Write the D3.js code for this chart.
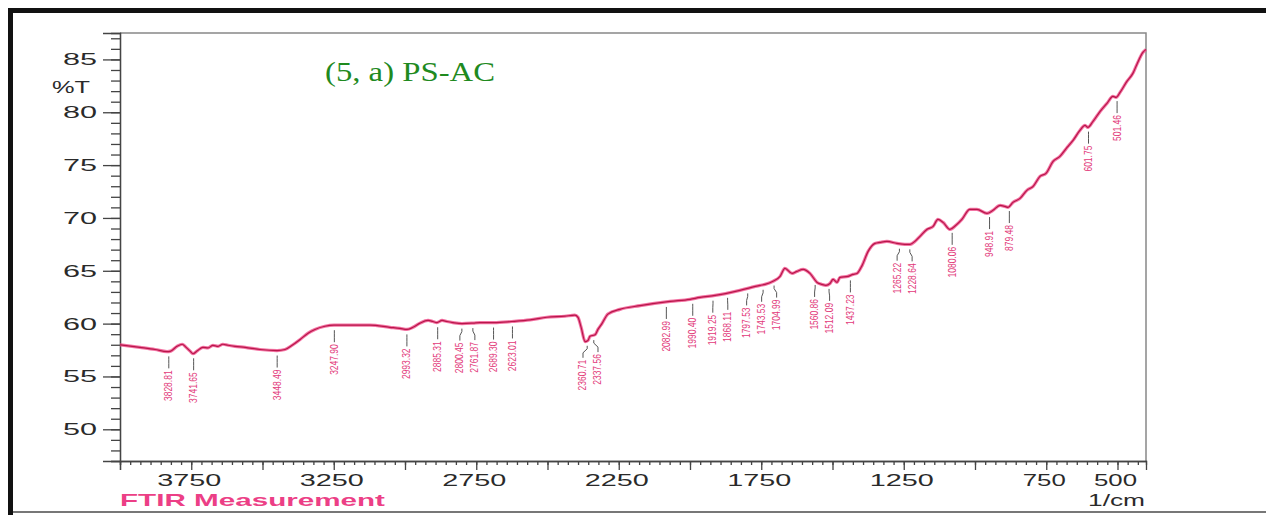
<!DOCTYPE html>
<html>
<head>
<meta charset="utf-8">
<script src="https://cdn.jsdelivr.net/npm/d3@7"></script>
<style>
  body { margin: 0; background: #fff; }
  svg { display: block; font-family: "Liberation Sans", Arial, sans-serif; }
</style>
</head>
<body>
<div id="chart"></div>
<script>
// Spectrum (1/cm, %T)
let wavenumbers = [4000, 3930, 3877, 3835, 3822, 3800, 3782, 3768, 3754, 3744, 3730, 3709, 3691, 3674, 3656,
    3639, 3621, 3596, 3561, 3509, 3449, 3421, 3396, 3368, 3340, 3316, 3281, 3249, 3193, 3123,
    3053, 3018, 2993, 2972, 2947, 2919, 2902, 2888, 2870, 2853, 2832, 2800, 2761, 2737, 2688,
    2625, 2561, 2502, 2439, 2404, 2393, 2382, 2368, 2358, 2351, 2333, 2323, 2309, 2288, 2246,
    2175, 2070, 2000, 1965, 1912, 1825, 1754, 1737, 1709, 1684, 1667, 1642, 1625, 1603, 1579,
    1554, 1537, 1523, 1509, 1498, 1484, 1474, 1446, 1428, 1414, 1396, 1375, 1351, 1333, 1309,
    1274, 1246, 1228, 1211, 1193, 1168, 1147, 1130, 1112, 1088, 1067, 1046, 1018, 993, 958,
    937, 912, 895, 884, 867, 842, 818, 796, 772, 751, 726, 702, 677, 656, 632,
    614, 604, 586, 561, 537, 516, 505, 491, 467, 446, 432, 411, 400];
let transmittance = [58.0, 57.75, 57.55, 57.35, 57.4, 57.85, 58.05, 57.75, 57.4, 57.15, 57.4, 57.75, 57.7, 57.95, 57.85,
    58.05, 57.95, 57.85, 57.75, 57.55, 57.45, 57.55, 57.95, 58.5, 59.1, 59.45, 59.75, 59.85, 59.85, 59.85,
    59.65, 59.55, 59.45, 59.65, 60.05, 60.3, 60.2, 60.1, 60.3, 60.2, 60.1, 60.0, 60.05, 60.1, 60.1,
    60.2, 60.35, 60.6, 60.7, 60.8, 60.6, 59.65, 58.3, 58.4, 58.8, 58.95, 59.45, 60.0, 60.9, 61.35,
    61.7, 62.1, 62.3, 62.48, 62.67, 63.15, 63.62, 63.71, 64.0, 64.47, 65.23, 64.75, 64.94, 65.13, 64.75,
    63.9, 63.71, 63.62, 63.8, 64.18, 63.9, 64.37, 64.47, 64.66, 64.75, 65.51, 66.84, 67.59, 67.69, 67.78,
    67.59, 67.5, 67.5, 67.78, 68.26, 68.92, 69.2, 69.86, 69.58, 68.92, 69.3, 69.86, 70.81, 70.81, 70.43,
    70.72, 71.19, 71.09, 71.0, 71.47, 71.85, 72.61, 72.99, 73.93, 74.22, 75.35, 75.82, 76.67, 77.34, 78.28,
    78.76, 78.57, 79.13, 80.08, 80.84, 81.5, 81.41, 81.88, 82.92, 83.68, 84.53, 85.66, 85.95];

// Peak labels printed under the curve
let peakLabels = ["3828.81", "3741.65", "3448.49", "3247.90", "2993.32", "2885.31", "2800.45", "2761.87",
    "2689.30", "2623.01", "2360.71", "2337.56", "2082.99", "1990.40", "1919.25", "1868.11", "1797.53",
    "1743.53", "1704.99", "1560.86", "1512.09", "1437.23", "1265.22", "1228.64", "1080.06", "948.91",
    "879.48", "601.75", "501.46"];

let xTickLabels = [3750, 3250, 2750, 2250, 1750, 1250, 750, 500];
let yTickLabels = [50, 55, 60, 65, 70, 75, 80, 85];

let W = 1266, H = 515;
let svg = d3.select("#chart").append("svg")
    .attr("width", W)
    .attr("height", H);

// Outer frame of the figure
svg.append("rect").attr("x", 8).attr("y", 8).attr("width", W - 8).attr("height", 5).attr("fill", "#111");
svg.append("rect").attr("x", 8).attr("y", 8).attr("width", 5).attr("height", H - 8).attr("fill", "#111");
svg.append("line").attr("x1", 13).attr("x2", W).attr("y1", 512).attr("y2", 512)
    .attr("stroke", "#777").attr("stroke-width", 2);

// Scales
let x = d3.scaleLinear().domain([4000, 400]).range([120, 1146]);
let y = d3.scaleLinear().domain([47, 87.5]).range([461, 33]);

// Plot box (top and right)
svg.append("path")
    .attr("d", "M" + x(4000) + "," + y(87.5) + "H" + x(400) + "V" + y(47))
    .attr("fill", "none").attr("stroke", "#888").attr("stroke-width", 1.5);

// X axis
let xMinor = d3.range(4000, 399, -250 / 7);
let xMajor = d3.range(4000, 399, -250);
let xAxisMinor = d3.axisBottom(x).tickValues(xMinor).tickSize(4).tickFormat("");
let xAxisMajor = d3.axisBottom(x).tickValues(xMajor).tickSize(9).tickFormat("");
svg.append("g").attr("transform", "translate(0," + y(47) + ")").call(xAxisMinor);
svg.append("g").attr("transform", "translate(0," + y(47) + ")").call(xAxisMajor);

svg.selectAll(".xlab")
    .data(xTickLabels)
    .enter().append("text")
    .attr("class", "xlab")
    .attr("x", function(d) { return x(d) - 2; })
    .attr("y", 486)
    .attr("text-anchor", "middle")
    .attr("textLength", function(d) { return String(d).length === 4 ? 64 : 43; })
    .attr("lengthAdjust", "spacingAndGlyphs")
    .attr("font-size", 16)
    .attr("fill", "#2a2a2a")
    .text(function(d) { return d; });

// Y axis
let yMinor = d3.range(47, 88, 1);
let yAxisMinor = d3.axisLeft(y).tickValues(yMinor).tickSize(9).tickFormat("");
let yAxisMajor = d3.axisLeft(y).tickValues(yTickLabels).tickSize(17).tickFormat("");
svg.append("g").attr("transform", "translate(" + x(4000) + ",0)").call(yAxisMinor);
svg.append("g").attr("transform", "translate(" + x(4000) + ",0)").call(yAxisMajor);
svg.selectAll(".domain, .tick line").attr("stroke", "#444").attr("stroke-width", 1.3);

svg.selectAll(".ylab")
    .data(yTickLabels)
    .enter().append("text")
    .attr("class", "ylab")
    .attr("x", 63)
    .attr("y", function(d) { return y(d) + 6; })
    .attr("textLength", 34)
    .attr("lengthAdjust", "spacingAndGlyphs")
    .attr("font-size", 16)
    .attr("fill", "#2a2a2a")
    .text(function(d) { return d; });

svg.append("text").attr("x", 52).attr("y", 93)
    .attr("textLength", 38).attr("lengthAdjust", "spacingAndGlyphs")
    .attr("font-size", 16).attr("fill", "#2a2a2a").text("%T");

svg.append("text").attr("x", 1088).attr("y", 506)
    .attr("textLength", 57).attr("lengthAdjust", "spacingAndGlyphs")
    .attr("font-size", 16).attr("fill", "#2a2a2a").text("1/cm");

svg.append("text").attr("x", 120).attr("y", 506)
    .attr("textLength", 265).attr("lengthAdjust", "spacingAndGlyphs")
    .attr("font-size", 17).attr("font-weight", "bold").attr("fill", "#ec3f86")
    .text("FTIR Measurement");

// Title
svg.append("text").attr("x", 325).attr("y", 81)
    .attr("textLength", 170).attr("lengthAdjust", "spacingAndGlyphs")
    .attr("font-family", "'Liberation Serif', 'Times New Roman', serif")
    .attr("font-size", 28).attr("fill", "#1f8a1f")
    .text("(5, a) PS-AC");

// Spectrum line
let spectrum = wavenumbers.map(function(nu, i) { return {nu: nu, t: transmittance[i]}; });
let line = d3.line()
    .x(function(d) { return x(d.nu); })
    .y(function(d) { return y(d.t); })
    .curve(d3.curveMonotoneX);

svg.append("path").datum(spectrum)
    .attr("d", line).attr("fill", "none")
    .attr("stroke", "#f0508c").attr("stroke-width", 3.2).attr("stroke-opacity", 0.8);
svg.append("path").datum(spectrum)
    .attr("d", line).attr("fill", "none")
    .attr("stroke", "#b8164a").attr("stroke-width", 1.2);

// Peak labels
function valueAt(nu) {
    for (let i = 1; i < spectrum.length; i++) {
        let a = spectrum[i - 1], b = spectrum[i];
        if (nu <= a.nu && nu >= b.nu) {
            let f = (a.nu - nu) / (a.nu - b.nu);
            return a.t + f * (b.t - a.t);
        }
    }
    return spectrum[spectrum.length - 1].t;
}

let peaks = peakLabels.map(function(s) {
    let nu = +s;
    return {label: s, px: x(nu), py: y(valueAt(nu)), lx: x(nu)};
});

// push crowded labels apart a little
for (let it = 0; it < 60; it++) {
    for (let i = 1; i < peaks.length; i++) {
        let gap = peaks[i].lx - peaks[i - 1].lx;
        if (gap < 15) {
            let d = (15 - gap) / 2;
            peaks[i - 1].lx -= d;
            peaks[i].lx += d;
        }
    }
}

svg.selectAll(".leader")
    .data(peaks)
    .enter().append("path")
    .attr("class", "leader")
    .attr("d", function(d) {
        return "M" + d.px + "," + (d.py + 5) + "V" + (d.py + 8) +
            "L" + d.lx + "," + (d.py + 12) + "V" + (d.py + 17);
    })
    .attr("fill", "none")
    .attr("stroke", "#555")
    .attr("stroke-width", 1);

svg.selectAll(".peaklab")
    .data(peaks)
    .enter().append("text")
    .attr("class", "peaklab")
    .attr("transform", function(d) { return "translate(" + (d.lx + 3.5) + "," + (d.py + 19) + ") rotate(-90) scale(1,1.35)"; })
    .attr("text-anchor", "end")
    .attr("font-size", 8.5)
    .attr("fill", "#e23a7a")
    .text(function(d) { return d.label; });
</script>
</body>
</html>
